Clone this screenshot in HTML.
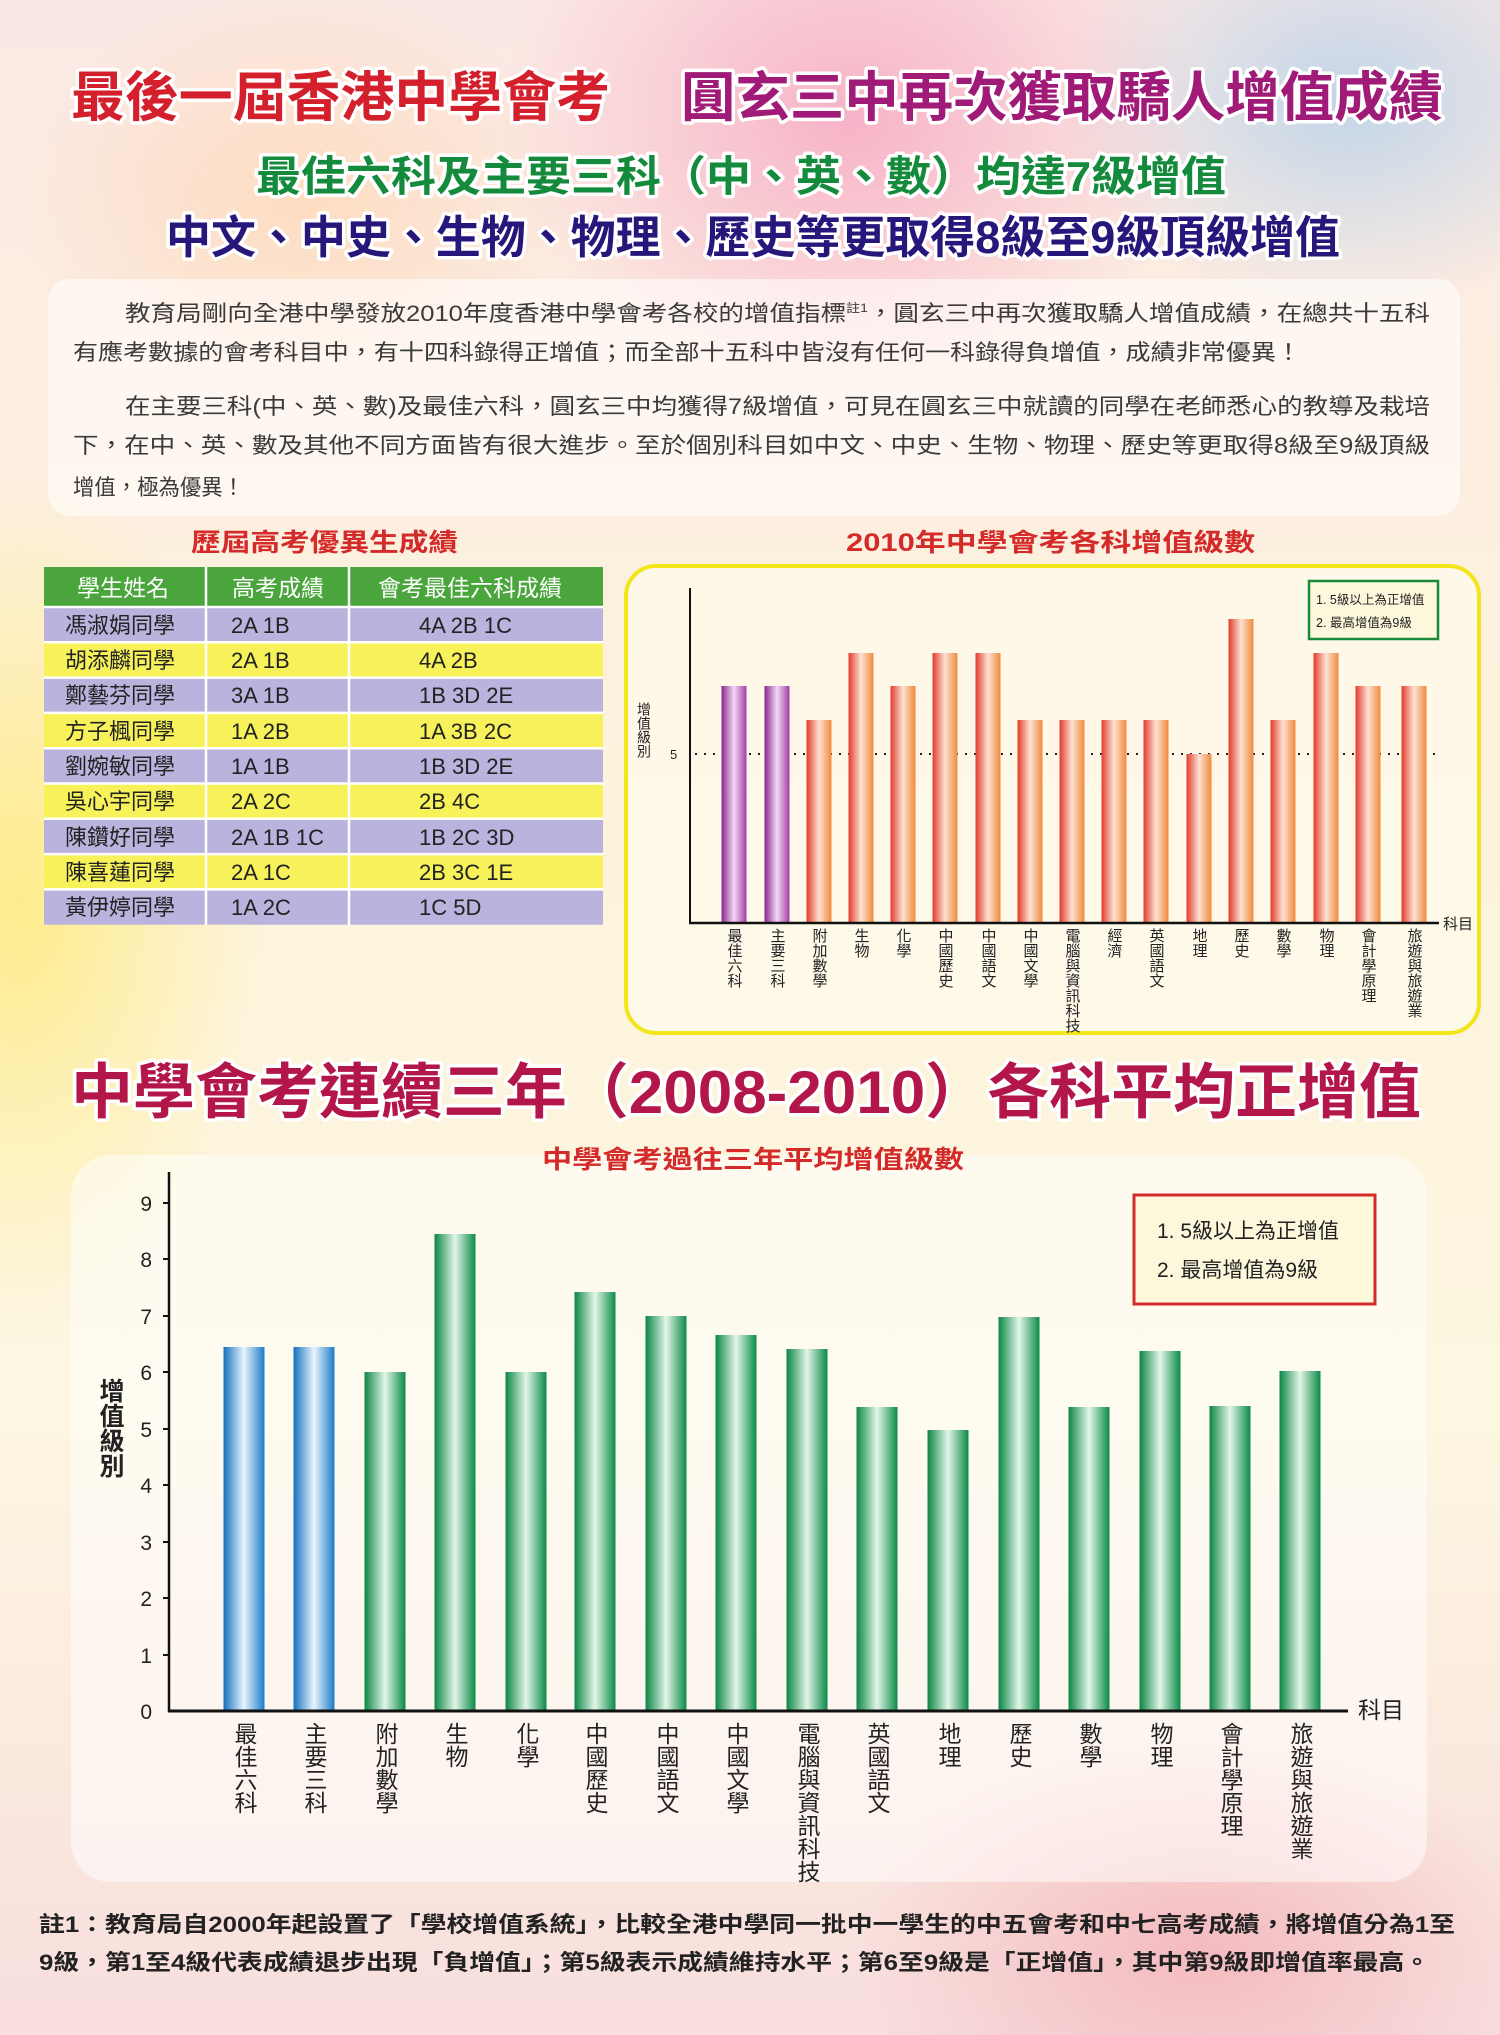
<!DOCTYPE html>
<html><head><meta charset="utf-8"><style>
html,body{margin:0;padding:0}
body{width:1500px;height:2035px;overflow:hidden;position:relative;
background:
radial-gradient(ellipse 500px 400px at 850px 120px, rgba(245,160,190,.75), rgba(245,160,190,0) 70%),
radial-gradient(ellipse 420px 300px at 1350px 100px, rgba(170,205,235,.7), rgba(170,205,235,0) 70%),
radial-gradient(ellipse 350px 600px at 20px 900px, rgba(255,235,120,.8), rgba(255,235,120,0) 70%),
radial-gradient(ellipse 500px 300px at 1200px 1950px, rgba(240,160,170,.6), rgba(240,160,170,0) 70%),
radial-gradient(ellipse 400px 300px at 300px 200px, rgba(255,210,170,.6), rgba(255,210,170,0) 70%),
linear-gradient(#fbe8e4,#fdf3dc 40%,#fdf6e0 70%,#f8dede);
font-family:"Liberation Sans","Noto Sans CJK TC",sans-serif}
svg{position:absolute;left:0;top:0}
text{font-family:"Liberation Sans","Noto Sans CJK TC",sans-serif}
.v{writing-mode:vertical-rl}
</style></head><body>
<svg width="1500" height="2035" viewBox="0 0 1500 2035">
<defs>
<linearGradient id="gO" x1="0" x2="1"><stop offset="0" stop-color="#e23a2c"/><stop offset=".5" stop-color="#fde2d2"/><stop offset="1" stop-color="#f08a3e"/></linearGradient>
<linearGradient id="gP" x1="0" x2="1"><stop offset="0" stop-color="#86288c"/><stop offset=".5" stop-color="#f3d6f3"/><stop offset="1" stop-color="#a23ea4"/></linearGradient>
<linearGradient id="gB" x1="0" x2="1"><stop offset="0" stop-color="#1470bd"/><stop offset=".5" stop-color="#eaf5ff"/><stop offset="1" stop-color="#1a7cc8"/></linearGradient>
<linearGradient id="gG" x1="0" x2="1"><stop offset="0" stop-color="#0a8644"/><stop offset=".5" stop-color="#e2f6e8"/><stop offset="1" stop-color="#0b8a48"/></linearGradient>
</defs>

<!-- Titles -->
<g font-weight="bold" paint-order="stroke" stroke="#fff" stroke-width="7" stroke-linejoin="round">
<text x="71" y="116" font-size="54" fill="#d4202c" textLength="539" lengthAdjust="spacingAndGlyphs">最後一屆香港中學會考</text>
<text x="681" y="116" font-size="54" fill="#a01a78" textLength="762" lengthAdjust="spacingAndGlyphs">圓玄三中再次獲取驕人增值成績</text>
<text x="256" y="191" font-size="42" fill="#138a3c" textLength="970" lengthAdjust="spacingAndGlyphs">最佳六科及主要三科（中、英、數）均達7級增值</text>
<text x="166" y="253" font-size="45" fill="#28177a" textLength="1174" lengthAdjust="spacingAndGlyphs">中文、中史、生物、物理、歷史等更取得8級至9級頂級增值</text>
<text x="71" y="1113" font-size="60" fill="#b3174a" textLength="1350" lengthAdjust="spacingAndGlyphs">中學會考連續三年（2008-2010）各科平均正增值</text>
</g>

<!-- paragraph box -->
<rect x="48" y="279" width="1412" height="237" rx="22" fill="#fff" fill-opacity=".55"/>
<g font-size="22" fill="#3a3a3a">
<text x="125" y="321" textLength="1305" lengthAdjust="spacingAndGlyphs">教育局剛向全港中學發放2010年度香港中學會考各校的增值指標<tspan font-size="12" dy="-9">註1</tspan><tspan dy="9">，圓玄三中再次獲取驕人增值成績，在總共十五科</tspan></text>
<text x="73" y="360" textLength="1228" lengthAdjust="spacingAndGlyphs">有應考數據的會考科目中，有十四科錄得正增值；而全部十五科中皆沒有任何一科錄得負增值，成績非常優異！</text>
<text x="125" y="414" textLength="1305" lengthAdjust="spacingAndGlyphs">在主要三科(中、英、數)及最佳六科，圓玄三中均獲得7級增值，可見在圓玄三中就讀的同學在老師悉心的教導及栽培</text>
<text x="73" y="453" textLength="1357" lengthAdjust="spacingAndGlyphs">下，在中、英、數及其他不同方面皆有很大進步。至於個別科目如中文、中史、生物、物理、歷史等更取得8級至9級頂級</text>
<text x="73" y="495" textLength="171" lengthAdjust="spacingAndGlyphs">增值，極為優異！</text>
</g>

<!-- table -->
<text x="191" y="551" font-size="25" font-weight="bold" fill="#d42a2a" textLength="267" lengthAdjust="spacingAndGlyphs">歷屆高考優異生成績</text>
<rect x="44" y="567" width="559" height="40" fill="#4aa63c"/>
<g fill="#b9b3dd"><rect x="44" y="607" width="559" height="35.3"/><rect x="44" y="677.6" width="559" height="35.3"/><rect x="44" y="748.2" width="559" height="35.3"/><rect x="44" y="818.8" width="559" height="35.3"/><rect x="44" y="889.4" width="559" height="35.3"/></g>
<g fill="#f8f25a"><rect x="44" y="642.3" width="559" height="35.3"/><rect x="44" y="712.9" width="559" height="35.3"/><rect x="44" y="783.5" width="559" height="35.3"/><rect x="44" y="854.1" width="559" height="35.3"/></g>
<g stroke="#fff" stroke-width="2.5"><line x1="206" y1="567" x2="206" y2="925"/><line x1="349" y1="567" x2="349" y2="925"/>
<line x1="44" y1="607" x2="603" y2="607"/><line x1="44" y1="642.3" x2="603" y2="642.3"/><line x1="44" y1="677.6" x2="603" y2="677.6"/><line x1="44" y1="712.9" x2="603" y2="712.9"/><line x1="44" y1="748.2" x2="603" y2="748.2"/><line x1="44" y1="783.5" x2="603" y2="783.5"/><line x1="44" y1="818.8" x2="603" y2="818.8"/><line x1="44" y1="854.1" x2="603" y2="854.1"/><line x1="44" y1="889.4" x2="603" y2="889.4"/></g>
<g font-size="23" fill="#fff" text-anchor="middle"><text x="123" y="596">學生姓名</text><text x="278" y="596">高考成績</text><text x="470" y="596">會考最佳六科成績</text></g>
<g font-size="22" fill="#222">
<text x="65" y="633">馮淑娟同學</text><text x="231" y="633">2A 1B</text><text x="419" y="633">4A 2B 1C</text>
<text x="65" y="668">胡添麟同學</text><text x="231" y="668">2A 1B</text><text x="419" y="668">4A 2B</text>
<text x="65" y="703">鄭藝芬同學</text><text x="231" y="703">3A 1B</text><text x="419" y="703">1B 3D 2E</text>
<text x="65" y="739">方子楓同學</text><text x="231" y="739">1A 2B</text><text x="419" y="739">1A 3B 2C</text>
<text x="65" y="774">劉婉敏同學</text><text x="231" y="774">1A 1B</text><text x="419" y="774">1B 3D 2E</text>
<text x="65" y="809">吳心宇同學</text><text x="231" y="809">2A 2C</text><text x="419" y="809">2B 4C</text>
<text x="65" y="845">陳鑽好同學</text><text x="231" y="845">2A 1B 1C</text><text x="419" y="845">1B 2C 3D</text>
<text x="65" y="880">陳喜蓮同學</text><text x="231" y="880">2A 1C</text><text x="419" y="880">2B 3C 1E</text>
<text x="65" y="915">黃伊婷同學</text><text x="231" y="915">1A 2C</text><text x="419" y="915">1C 5D</text>
</g>

<!-- right chart -->
<text x="846" y="551" font-size="25" font-weight="bold" fill="#d42a2a" textLength="409" lengthAdjust="spacingAndGlyphs">2010年中學會考各科增值級數</text>
<rect x="626" y="566" width="853" height="467" rx="30" fill="#fffbee" fill-opacity=".7" stroke="#f2e51a" stroke-width="4"/>
<line x1="695" y1="754" x2="1439" y2="754" stroke="#222" stroke-width="2" stroke-dasharray="2 7"/>
<g>
<rect x="721.5" y="686" width="25" height="237" fill="url(#gP)"/>
<rect x="764.5" y="686" width="25" height="237" fill="url(#gP)"/>
<rect x="806.5" y="720" width="25" height="203" fill="url(#gO)"/>
<rect x="848.5" y="653" width="25" height="270" fill="url(#gO)"/>
<rect x="890.5" y="686" width="25" height="237" fill="url(#gO)"/>
<rect x="932.5" y="653" width="25" height="270" fill="url(#gO)"/>
<rect x="975.5" y="653" width="25" height="270" fill="url(#gO)"/>
<rect x="1017.5" y="720" width="25" height="203" fill="url(#gO)"/>
<rect x="1059.5" y="720" width="25" height="203" fill="url(#gO)"/>
<rect x="1101.5" y="720" width="25" height="203" fill="url(#gO)"/>
<rect x="1143.5" y="720" width="25" height="203" fill="url(#gO)"/>
<rect x="1186.5" y="754" width="25" height="169" fill="url(#gO)"/>
<rect x="1228.5" y="619" width="25" height="304" fill="url(#gO)"/>
<rect x="1270.5" y="720" width="25" height="203" fill="url(#gO)"/>
<rect x="1313.5" y="653" width="25" height="270" fill="url(#gO)"/>
<rect x="1355.5" y="686" width="25" height="237" fill="url(#gO)"/>
<rect x="1401.5" y="686" width="25" height="237" fill="url(#gO)"/>
</g>
<line x1="690" y1="588" x2="690" y2="924" stroke="#111" stroke-width="2"/>
<line x1="689" y1="923" x2="1439" y2="923" stroke="#111" stroke-width="2.5"/>
<text x="1443" y="929" font-size="15" fill="#222">科目</text>
<text x="670" y="759" font-size="13" fill="#222">5</text>
<text class="v" x="644" y="702" font-size="14" fill="#222">增值級別</text>
<rect x="1309" y="581" width="129" height="58" fill="#fdf8dc" stroke="#1a8a3a" stroke-width="2.5"/>
<text x="1316" y="604" font-size="12.5" fill="#222">1. 5級以上為正增值</text>
<text x="1316" y="627" font-size="12.5" fill="#222">2. 最高增值為9級</text>
<g font-size="15" fill="#222" class="v">
<text class="v" x="734" y="928">最佳六科</text><text class="v" x="777" y="928">主要三科</text><text class="v" x="819" y="928">附加數學</text><text class="v" x="861" y="928">生物</text><text class="v" x="903" y="928">化學</text><text class="v" x="945" y="928">中國歷史</text><text class="v" x="988" y="928">中國語文</text><text class="v" x="1030" y="928">中國文學</text><text class="v" x="1072" y="928">電腦與資訊科技</text><text class="v" x="1114" y="928">經濟</text><text class="v" x="1156" y="928">英國語文</text><text class="v" x="1199" y="928">地理</text><text class="v" x="1241" y="928">歷史</text><text class="v" x="1283" y="928">數學</text><text class="v" x="1326" y="928">物理</text><text class="v" x="1368" y="928">會計學原理</text><text class="v" x="1414" y="928">旅遊與旅遊業</text>
</g>

<!-- bottom chart -->
<rect x="71" y="1155" width="1356" height="727" rx="40" fill="#fff" fill-opacity=".5"/>
<text x="542" y="1168" font-size="25" font-weight="bold" fill="#d42a2a" textLength="422" lengthAdjust="spacingAndGlyphs">中學會考過往三年平均增值級數</text>
<g>
<rect x="223.5" y="1347" width="41" height="364" fill="url(#gB)"/>
<rect x="293.5" y="1347" width="41" height="364" fill="url(#gB)"/>
<rect x="364.5" y="1372" width="41" height="339" fill="url(#gG)"/>
<rect x="434.5" y="1234" width="41" height="477" fill="url(#gG)"/>
<rect x="505.5" y="1372" width="41" height="339" fill="url(#gG)"/>
<rect x="574.5" y="1292" width="41" height="419" fill="url(#gG)"/>
<rect x="645.5" y="1316" width="41" height="395" fill="url(#gG)"/>
<rect x="715.5" y="1335" width="41" height="376" fill="url(#gG)"/>
<rect x="786.5" y="1349" width="41" height="362" fill="url(#gG)"/>
<rect x="856.5" y="1407" width="41" height="304" fill="url(#gG)"/>
<rect x="927.5" y="1430" width="41" height="281" fill="url(#gG)"/>
<rect x="998.5" y="1317" width="41" height="394" fill="url(#gG)"/>
<rect x="1068.5" y="1407" width="41" height="304" fill="url(#gG)"/>
<rect x="1139.5" y="1351" width="41" height="360" fill="url(#gG)"/>
<rect x="1209.5" y="1406" width="41" height="305" fill="url(#gG)"/>
<rect x="1279.5" y="1371" width="41" height="340" fill="url(#gG)"/>
</g>
<line x1="169" y1="1172" x2="169" y2="1712" stroke="#111" stroke-width="2.5"/>
<line x1="168" y1="1711" x2="1348" y2="1711" stroke="#111" stroke-width="3"/>
<g stroke="#111" stroke-width="2"><line x1="163" y1="1655" x2="169" y2="1655"/><line x1="163" y1="1598" x2="169" y2="1598"/><line x1="163" y1="1542" x2="169" y2="1542"/><line x1="163" y1="1485" x2="169" y2="1485"/><line x1="163" y1="1429" x2="169" y2="1429"/><line x1="163" y1="1372" x2="169" y2="1372"/><line x1="163" y1="1316" x2="169" y2="1316"/><line x1="163" y1="1259" x2="169" y2="1259"/><line x1="163" y1="1203" x2="169" y2="1203"/></g>
<g font-size="21" fill="#222" text-anchor="end">
<text x="152" y="1719">0</text><text x="152" y="1663">1</text><text x="152" y="1606">2</text><text x="152" y="1550">3</text><text x="152" y="1493">4</text><text x="152" y="1437">5</text><text x="152" y="1380">6</text><text x="152" y="1324">7</text><text x="152" y="1267">8</text><text x="152" y="1211">9</text>
</g>
<text x="1358" y="1718" font-size="23" fill="#222">科目</text>
<text class="v" x="110" y="1378" font-size="25" font-weight="bold" fill="#222">增值級別</text>
<rect x="1134" y="1195" width="241" height="109" fill="#fdf8dc" stroke="#d42a2a" stroke-width="3"/>
<text x="1157" y="1238" font-size="21" fill="#222">1. 5級以上為正增值</text>
<text x="1157" y="1277" font-size="21" fill="#222">2. 最高增值為9級</text>
<g font-size="23" fill="#222">
<text class="v" x="244" y="1722">最佳六科</text><text class="v" x="314" y="1722">主要三科</text><text class="v" x="385" y="1722">附加數學</text><text class="v" x="455" y="1722">生物</text><text class="v" x="526" y="1722">化學</text><text class="v" x="595" y="1722">中國歷史</text><text class="v" x="666" y="1722">中國語文</text><text class="v" x="736" y="1722">中國文學</text><text class="v" x="807" y="1722">電腦與資訊科技</text><text class="v" x="877" y="1722">英國語文</text><text class="v" x="948" y="1722">地理</text><text class="v" x="1019" y="1722">歷史</text><text class="v" x="1089" y="1722">數學</text><text class="v" x="1160" y="1722">物理</text><text class="v" x="1230" y="1722">會計學原理</text><text class="v" x="1300" y="1722">旅遊與旅遊業</text>
</g>

<!-- footer -->
<g font-size="22" font-weight="bold" fill="#222">
<text x="39" y="1932" textLength="1416" lengthAdjust="spacingAndGlyphs">註1：教育局自2000年起設置了「學校增值系統」，比較全港中學同一批中一學生的中五會考和中七高考成績，將增值分為1至</text>
<text x="39" y="1970" textLength="1391" lengthAdjust="spacingAndGlyphs">9級，第1至4級代表成績退步出現「負增值」；第5級表示成績維持水平；第6至9級是「正增值」，其中第9級即增值率最高。</text>
</g>
</svg>
</body></html>
